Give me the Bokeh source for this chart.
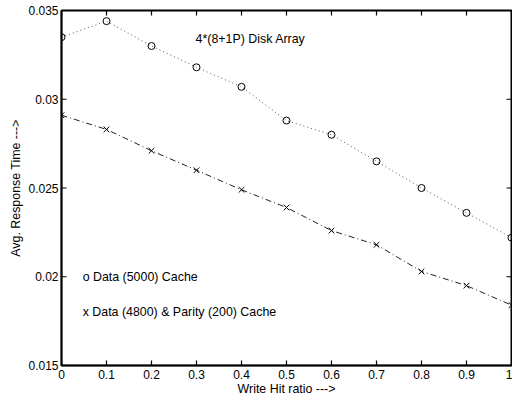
import math
from bokeh.plotting import figure
from bokeh.models import FixedTicker, Range1d, Label
from bokeh.embed import file_html
from bokeh.resources import INLINE

hit_ratio = [0.0, 0.1, 0.2, 0.3, 0.4, 0.5, 0.6, 0.7, 0.8, 0.9, 1.0]
data_cache = [0.0335, 0.0344, 0.0330, 0.0318, 0.0307, 0.0288, 0.0280, 0.0265, 0.0250, 0.0236, 0.0222]
parity_cache = [0.0291, 0.0283, 0.0271, 0.0260, 0.0249, 0.0239, 0.0226, 0.0218, 0.0203, 0.0195, 0.0184]
x_ticks = [0, 0.1, 0.2, 0.3, 0.4, 0.5, 0.6, 0.7, 0.8, 0.9, 1]
y_ticks = [0.015, 0.02, 0.025, 0.03, 0.035]
x_tick_labels = {0: "0", 0.1: "0.1", 0.2: "0.2", 0.3: "0.3", 0.4: "0.4", 0.5: "0.5",
                 0.6: "0.6", 0.7: "0.7", 0.8: "0.8", 0.9: "0.9", 1: "1"}
y_tick_labels = {0.015: "0.015", 0.02: "0.02", 0.025: "0.025", 0.03: "0.03", 0.035: "0.035"}
X_MIN, X_MAX = 0, 1
Y_MIN, Y_MAX = 0.015, 0.035

FONT = "Liberation Sans"
FS = "12px"
TFS = "12.4px"

p = figure(width=512, height=398, output_backend="svg", toolbar_location=None,
           x_range=Range1d(X_MIN, X_MAX), y_range=Range1d(Y_MIN, Y_MAX),
           min_border_left=61, min_border_right=1, min_border_top=10, min_border_bottom=4)
p.grid.visible = False
p.outline_line_color = "black"
p.outline_line_width = 2
p.background_fill_color = "white"

for ax in (p.xaxis[0], p.yaxis[0]):
    ax.axis_line_color = "black"
    ax.axis_line_width = 1.5
    ax.major_tick_in = 0
    ax.major_tick_out = 0
    ax.minor_tick_line_color = None
    ax.major_label_text_font = FONT
    ax.major_label_text_font_size = FS
    ax.major_label_text_color = "black"
    ax.axis_label_text_font = FONT
    ax.axis_label_text_font_size = TFS
    ax.axis_label_text_font_style = "normal"
    ax.axis_label_text_color = "black"

p.xaxis.ticker = FixedTicker(ticks=x_ticks)
p.yaxis.ticker = FixedTicker(ticks=y_ticks)
p.xaxis.major_label_overrides = x_tick_labels
p.yaxis.major_label_overrides = y_tick_labels
p.xaxis.axis_label = "Write Hit ratio --->"
p.yaxis.axis_label = "Avg. Response Time --->"
p.xaxis.major_label_standoff = 4
p.xaxis.axis_label_standoff = 0
p.yaxis.major_label_standoff = 3
p.yaxis.axis_label_standoff = 2

# inward tick marks on all four sides (half of each dash is clipped by the frame)
nx, ny = len(x_ticks), len(y_ticks)
p.scatter(x_ticks + x_ticks, [Y_MIN] * nx + [Y_MAX] * nx, marker="dash", size=10,
          angle=math.pi / 2, line_color="black", line_width=1.2)
p.scatter([X_MIN] * ny + [X_MAX] * ny, y_ticks + y_ticks, marker="dash", size=10,
          line_color="black", line_width=1.2)

p.line(hit_ratio, data_cache, line_color="#555555", line_width=1, line_dash="1 3")
p.scatter(hit_ratio, data_cache, marker="circle", size=7, fill_color=None,
          line_color="black", line_width=1)

p.line(hit_ratio, parity_cache, line_color="#222222", line_width=1, line_dash="6 3 1 3")
p.scatter(hit_ratio, parity_cache, marker="x", size=8, line_color="black", line_width=1)

p.add_layout(Label(x=0.298, y=0.0334, text="4*(8+1P) Disk Array", text_font=FONT,
                   text_font_size=TFS, text_baseline="middle", text_color="black"))
p.add_layout(Label(x=0.047, y=0.0200, text="o Data (5000) Cache", text_font=FONT,
                   text_font_size=TFS, text_baseline="middle", text_color="black"))
p.add_layout(Label(x=0.047, y=0.0180, text="x Data (4800) & Parity (200) Cache", text_font=FONT,
                   text_font_size=TFS, text_baseline="middle", text_color="black"))

open("out.html", "w").write(file_html(p, INLINE))
